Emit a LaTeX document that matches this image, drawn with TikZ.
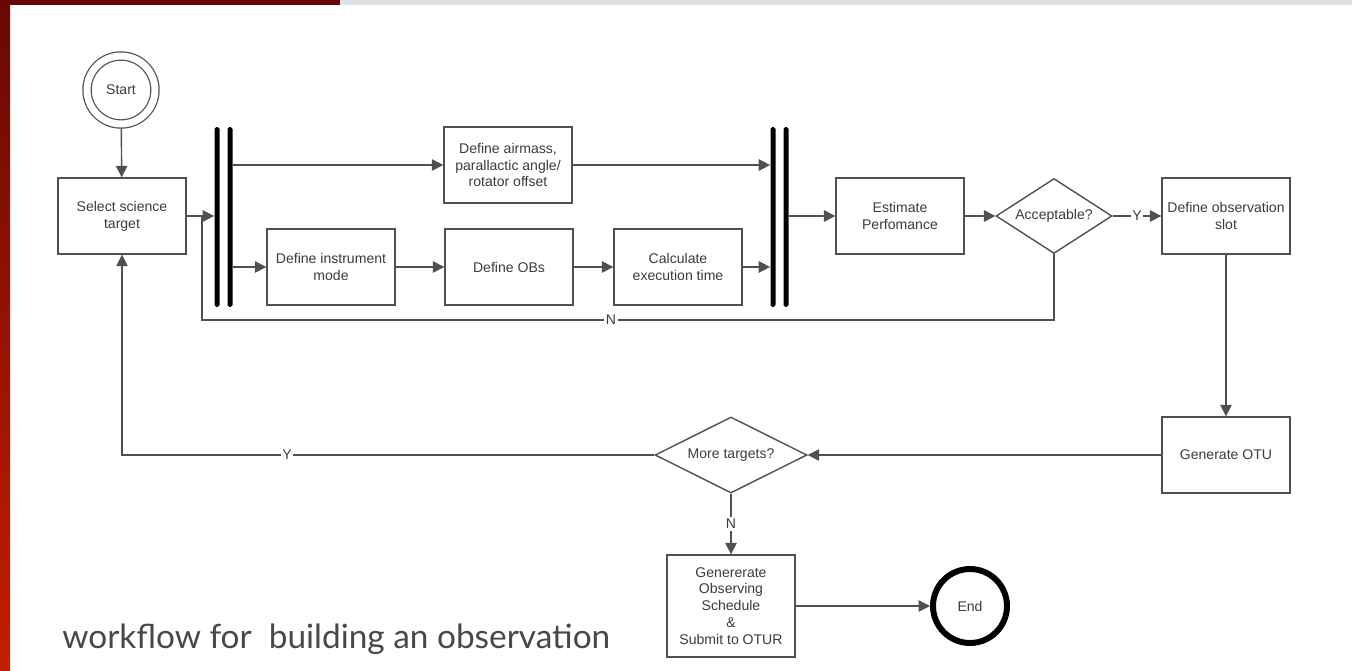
\documentclass[tikz,border=0pt]{standalone}
\usepackage{fontspec}
\setmainfont{Liberation Sans}
\newfontfamily\capfont{Lato}
\usetikzlibrary{arrows.meta,shapes.geometric}

\definecolor{lineg}{RGB}{80,80,80}
\definecolor{textg}{RGB}{60,60,60}
\definecolor{capg}{RGB}{72,72,72}
\definecolor{slidered}{RGB}{104,8,4}
\definecolor{slideredb}{RGB}{196,30,0}
\definecolor{bargrey}{RGB}{222,225,229}

\begin{document}
\begin{tikzpicture}[x=0.02cm, y=-0.02cm, >={Triangle[length=6.5pt,width=6.5pt]},
  every node/.style={font=\fontsize{8}{9.6}\selectfont, text=textg},
  box/.style={draw=lineg, line width=0.8pt, align=center, minimum width=2.56cm, minimum height=1.52cm, inner sep=1pt},
  decision/.style={diamond, aspect=2, draw=lineg, line width=0.8pt, inner sep=0pt, minimum width=2.32cm, minimum height=1.5cm},
  bar/.style={fill=black, rounded corners=1pt, minimum width=0.1cm, minimum height=3.6cm, inner sep=0pt},
  conn/.style={draw=lineg, line width=0.8pt},
  lbl/.style={fill=white, inner sep=1pt}]

  % Slide frame.
  \useasboundingbox (0,0) rectangle (1352,670);
  \fill[white] (0,0) rectangle (1352,670);
  \shade[top color=slidered, bottom color=slideredb] (0,0) rectangle (10,670);
  \fill[bargrey] (340,0) rectangle (1352,5);
  \fill[slidered] (0,0) rectangle (340,5);

  % Upper row.
  \node[circle, draw=lineg, line width=0.7pt, double=white, double distance=0.14cm,
        minimum size=1.36cm, outer sep=0.09cm] (start) at (121,90) {Start};
  \node[box] (sel) at (122,216) {Select science\\target};
  \node[bar] (forkA) at (217,217) {};
  \node[bar] (forkB) at (230,217) {};
  \node[box] (air) at (508,165) {Define airmass,\\parallactic angle/\\rotator offset};
  \node[box] (inst) at (331,267) {Define instrument\\mode};
  \node[box] (obs) at (509,267) {Define OBs};
  \node[box] (calc) at (678,267) {Calculate\\execution time};
  \node[bar] (joinA) at (773,217) {};
  \node[bar] (joinB) at (786,217) {};
  \node[box] (est) at (900,216) {Estimate\\Perfomance};
  \node[decision] (acc) at (1054,216) {Acceptable?};
  \node[box] (slot) at (1226,216) {Define observation\\slot};

  % Lower row.
  \node[box] (otu) at (1226,455) {Generate OTU};
  \node[decision, minimum width=3.04cm, minimum height=1.52cm] (more) at (731,455) {More targets?};
  \node[box, minimum height=2.04cm] (sched) at (731,606) {Genererate\\Observing\\Schedule\\\&\\Submit to OTUR};
  \node[circle, draw=black, line width=3.4pt, minimum size=1.48cm] (end) at (970,606) {End};

  % Caption.
  \node[anchor=base west, inner sep=0pt, font=\capfont\fontsize{19}{22}\selectfont, text=capg]
    (cap) at (62,648) {workflow for\ \ building an observation};

  % Connectors.
  \draw[conn,->] (start) -- (sel);
  \draw[conn,->] (sel.east) -- (sel.east -| forkA.west);
  \draw[conn,->] (forkB.east |- air.west) -- (air.west);
  \draw[conn,->] (forkB.east |- inst.west) -- (inst.west);
  \draw[conn,->] (inst) -- (obs);
  \draw[conn,->] (obs) -- (calc);
  \draw[conn,->] (air.east) -- (air.east -| joinA.west);
  \draw[conn,->] (calc.east) -- (calc.east -| joinA.west);
  \draw[conn,->] (joinB.east |- est.west) -- (est.west);
  \draw[conn,->] (est) -- (acc);
  \draw[conn,->] (acc) -- node[lbl] {Y} (slot);
  \draw[conn,->] (slot) -- (otu);
  \draw[conn,->] (otu) -- (more);
  \draw[conn,->] (more) -- node[lbl] {N} (sched);
  \draw[conn,->] (sched) -- (end);
  \draw[conn,->] (more.west) -| node[lbl, pos=0.345] {Y} (sel.south);

  % Rejected estimate goes back before the fork.
  \coordinate (loopN) at (202,320);
  \draw[conn] (acc.south) |- node[lbl, pos=0.76] {N} (loopN) -- (loopN |- sel.east);
\end{tikzpicture}
\end{document}
